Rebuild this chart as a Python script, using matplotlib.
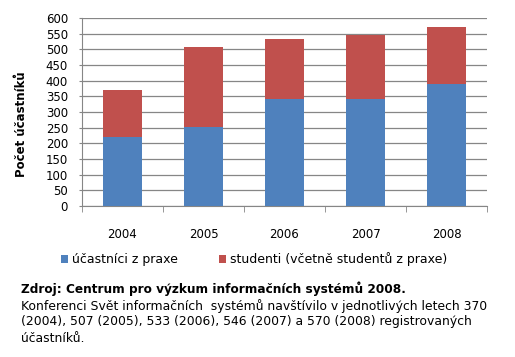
import numpy as np
import matplotlib.pyplot as plt

# data
roky = ['2004', '2005', '2006', '2007', '2008']
z_praxe = [220, 253, 340, 340, 390]
celkem = [370, 507, 533, 546, 570]
studenti = [c - p for c, p in zip(celkem, z_praxe)]

modra = '#4F81BD'
cervena = '#C0504D'
seda = '#868686'

fig = plt.figure(figsize=(5.15, 3.57), dpi=100)
ax = fig.add_axes([82/515, 1 - 206/357, 405/515, 188/357])

x = np.arange(len(roky))
ax.bar(x, z_praxe, 0.49, color=modra, label='účastníci z praxe', zorder=3)
ax.bar(x, studenti, 0.49, bottom=z_praxe, color=cervena,
       label='studenti (včetně studentů z praxe)', zorder=3)

ax.set_xlim(-0.5, len(roky) - 0.5)
ax.set_ylim(0, 600)
ax.set_yticks(range(0, 601, 50))
ax.tick_params(axis='y', labelsize=8.5, length=2, color=seda, pad=8)
ax.set_xticks(x)
ax.set_xticklabels(roky, fontsize=8.5)
ax.tick_params(axis='x', length=0, pad=16)
ax.set_xticks(np.arange(-0.5, len(roky)), minor=True)
ax.tick_params(axis='x', which='minor', length=4, color=seda)
ax.grid(axis='y', color=seda, linewidth=0.9, zorder=0)

for s in ['top', 'right']:
    ax.spines[s].set_visible(False)
ax.spines['left'].set_color(seda)
ax.spines['bottom'].set_color(seda)

fig.text(22/515, 1 - 124/357, 'Počet účastníků', rotation=90, fontsize=8.5,
         fontweight='bold', ha='center', va='center')

fig.legend(loc='center', bbox_to_anchor=(254/515, 1 - 259/357), ncol=2,
           frameon=False, fontsize=9, handlelength=0.6, handleheight=0.6,
           handletextpad=0.3, columnspacing=3.3)

fig.text(21/515, 1 - 289/357, 'Zdroj: Centrum pro výzkum informačních systémů 2008.',
         fontsize=8.7, fontweight='bold', va='center')
radky = ['Konferenci Svět informačních  systémů navštívilo v jednotlivých letech 370',
         '(2004), 507 (2005), 533 (2006), 546 (2007) a 570 (2008) registrovaných',
         'účastníků.']
for i, r in enumerate(radky):
    fig.text(21/515, 1 - (306 + 16 * i)/357, r, fontsize=8.9, va='center')

fig.savefig('out.png', dpi=100)
